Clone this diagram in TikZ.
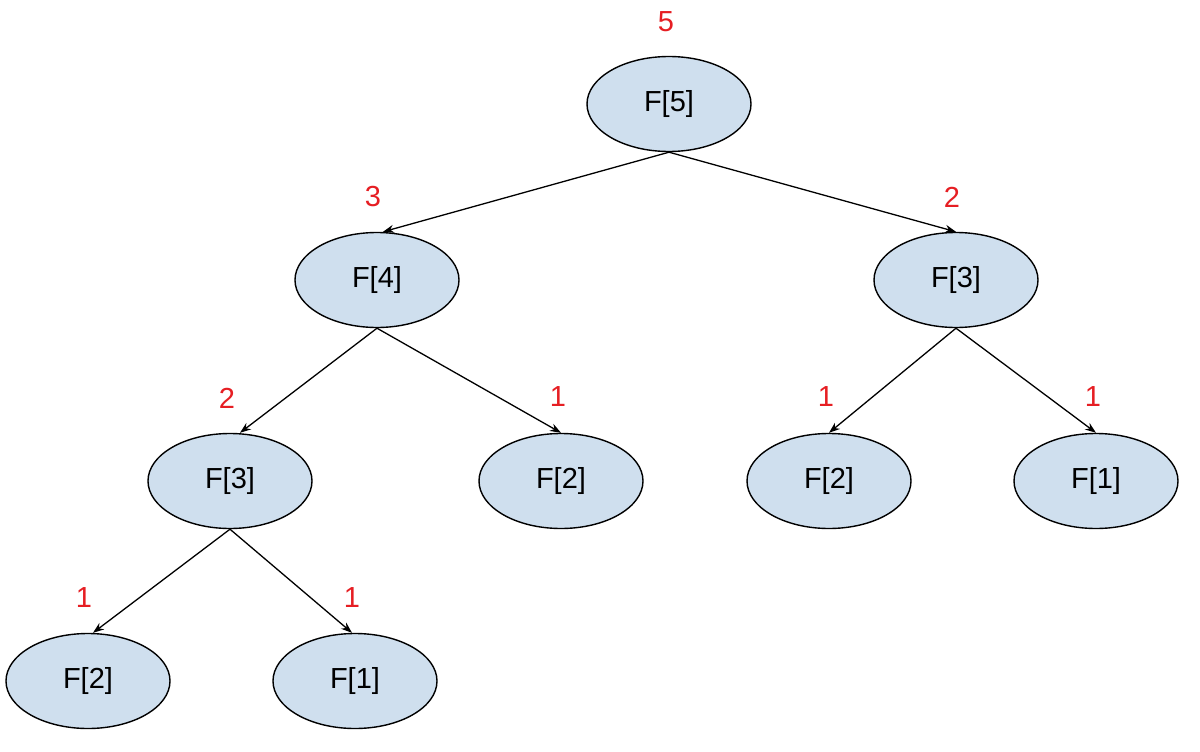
\documentclass[tikz,border=0pt]{standalone}
\usepackage{fontspec}
\setmainfont{Liberation Sans}
\usetikzlibrary{shapes.geometric,arrows.meta}
\definecolor{nodefill}{RGB}{207,223,238}
\definecolor{numred}{RGB}{230,30,35}
\begin{document}
\begin{tikzpicture}[x=1pt,y=-1pt,
  fnode/.style={ellipse,draw=black,line width=1.4pt,fill=nodefill,minimum width=164pt,minimum height=95pt,inner sep=0pt,font=\fontsize{29}{34}\selectfont},
  cnt/.style={text=numred,font=\fontsize{29}{34}\selectfont,inner sep=0pt},
  edge/.style={draw=black,line width=1.3pt,-{Stealth[length=11pt,width=8pt]}}]
\useasboundingbox (0,0) rectangle (1200,752);
\fill[white] (0,0) rectangle (1200,752);
\node[fnode] (f5) at (669,104) {F[5]};
\node[fnode] (f4) at (377,280) {F[4]};
\node[fnode] (f3r) at (956,280) {F[3]};
\node[fnode] (f3l) at (230,481) {F[3]};
\node[fnode] (f2m) at (561,481) {F[2]};
\node[fnode] (f2r) at (829,481) {F[2]};
\node[fnode] (f1r) at (1096,481) {F[1]};
\node[fnode] (f2b) at (88,681) {F[2]};
\node[fnode] (f1b) at (355,681) {F[1]};
\node[cnt] (c5) at (666,22) {5};
\node[cnt] (c4) at (373,197) {3};
\node[cnt] (c3r) at (952,197) {2};
\node[cnt] (c3l) at (227,398) {2};
\node[cnt] (c2m) at (558,397) {1};
\node[cnt] (c2r) at (826,397) {1};
\node[cnt] (c1r) at (1093,397) {1};
\node[cnt] (c2b) at (84,598) {1};
\node[cnt] (c1b) at (352,598) {1};
\draw[edge] (f5.south) -- ([xshift=6pt]f4.north);
\draw[edge] (f5.south) -- (f3r.north);
\draw[edge] (f4.south) -- ([xshift=10pt]f3l.north);
\draw[edge] (f4.south) -- (f2m.north);
\draw[edge] (f3r.south) -- (f2r.north);
\draw[edge] (f3r.south) -- (f1r.north);
\draw[edge] (f3l.south) -- ([xshift=5pt]f2b.north);
\draw[edge] (f3l.south) -- ([xshift=-3pt]f1b.north);
\end{tikzpicture}
\end{document}
